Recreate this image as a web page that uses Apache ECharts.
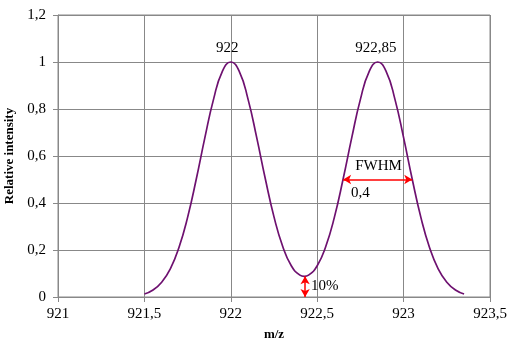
<!DOCTYPE html>
<html>
<head>
<meta charset="utf-8">
<script src="https://cdn.jsdelivr.net/npm/echarts@6/dist/echarts.min.js"></script>
<style>html,body{margin:0;padding:0;background:#fff}#c{width:508px;height:339px}</style>
</head>
<body>
<div id="c"></div>
<script>
// m/z positions and relative intensity
var mz = [921.5,921.55,921.6,921.65,921.7,921.75,921.8,921.85,921.9,921.95,
          922,922.05,922.1,922.15,922.2,922.25,922.3,922.35,922.4,922.425,922.45,
          922.5,922.55,922.6,922.65,922.7,922.75,922.8,922.85,922.9,922.95,
          923,923.05,923.1,923.15,923.2,923.25,923.3,923.35];
var intensity = [0.013,0.030,0.063,0.120,0.211,0.339,0.501,0.678,0.841,0.958,
                 1.0,0.958,0.841,0.678,0.502,0.341,0.216,0.133,0.093,0.088,0.093,
                 0.133,0.216,0.341,0.502,0.678,0.841,0.958,1.0,0.958,0.841,
                 0.678,0.501,0.339,0.211,0.120,0.063,0.030,0.013];
// annotation texts and anchors
var peakLabels = [[921.98, 1.0, '922'], [922.84, 1.0, '922,85']];
var fwhmArrow = [[922.65, 0.5], [923.05, 0.5]];
var valleyArrow = [[922.43, 0.088], [922.43, 0.0]];
var noteLabels = [[922.855, 0.5, 'FWHM', 'top'], [922.75, 0.5, '0,4', 'bottom'], [922.43, 0.048, '10%', 'right']];

var xTicks = {min: 921, max: 923.5, interval: 0.5};
var yTicks = {min: 0, max: 1.2, interval: 0.2};

var font = '"Liberation Serif","Times New Roman",serif';
var comma = function (v) { return String(Math.round(v * 100) / 100).replace('.', ','); };

var chart = echarts.init(document.getElementById('c'), null, {renderer: 'canvas'});
chart.setOption({
  animation: false,
  backgroundColor: '#fff',
  grid: {left: 58, right: 18, top: 15, bottom: 42, show: true, borderColor: '#888', borderWidth: 1,
         outerBoundsMode: 'none', containLabel: false},
  xAxis: {
    type: 'value', min: xTicks.min, max: xTicks.max, interval: xTicks.interval,
    name: 'm/z', nameLocation: 'middle', nameGap: 31,
    nameTextStyle: {fontFamily: font, fontWeight: 'bold', fontSize: 13, color: '#000'},
    axisLine: {show: true, lineStyle: {color: '#888'}},
    axisTick: {show: true, length: 5, lineStyle: {color: '#888'}},
    axisLabel: {formatter: comma, fontFamily: font, fontSize: 15, color: '#000', margin: 10},
    splitLine: {show: true, lineStyle: {color: '#888', width: 1}}
  },
  yAxis: {
    type: 'value', min: yTicks.min, max: yTicks.max, interval: yTicks.interval,
    name: 'Relative intensity', nameLocation: 'middle', nameGap: 29,
    nameTextStyle: {fontFamily: font, fontWeight: 'bold', fontSize: 13, color: '#000'},
    axisLine: {show: true, lineStyle: {color: '#888'}},
    axisTick: {show: true, length: 5, lineStyle: {color: '#888'}},
    axisLabel: {formatter: comma, fontFamily: font, fontSize: 15, color: '#000', margin: 12},
    splitLine: {show: true, lineStyle: {color: '#888', width: 1}}
  },
  series: [
    {
      type: 'line', smooth: true, showSymbol: false, symbol: 'none',
      data: mz.map(function (x, i) { return [x, intensity[i]]; }),
      lineStyle: {color: '#6e1170', width: 1.7},
      markLine: {
        silent: true, symbol: ['arrow', 'arrow'], symbolSize: [7, 8],
        label: {show: false},
        lineStyle: {color: '#ff0000', width: 1.5, type: 'solid'},
        data: [
          [{coord: fwhmArrow[0]}, {coord: fwhmArrow[1]}],
          [{coord: valleyArrow[0]}, {coord: valleyArrow[1]}]
        ]
      }
    },
    {
      type: 'scatter', symbolSize: 0, silent: true, itemStyle: {opacity: 1},
      data: peakLabels.map(function (p) { return {value: [p[0], p[1]], name: p[2]}; }),
      label: {show: true, position: 'top', distance: 6, formatter: '{b}', fontFamily: font, fontSize: 15, color: '#000'}
    },
    {
      type: 'scatter', symbolSize: 0, silent: true, itemStyle: {opacity: 1},
      data: noteLabels.map(function (p) {
        return {value: [p[0], p[1]], name: p[2], label: {position: p[3]}};
      }),
      label: {show: true, distance: 6, formatter: '{b}', fontFamily: font, fontSize: 15, color: '#000'}
    }
  ]
});
</script>
</body>
</html>
